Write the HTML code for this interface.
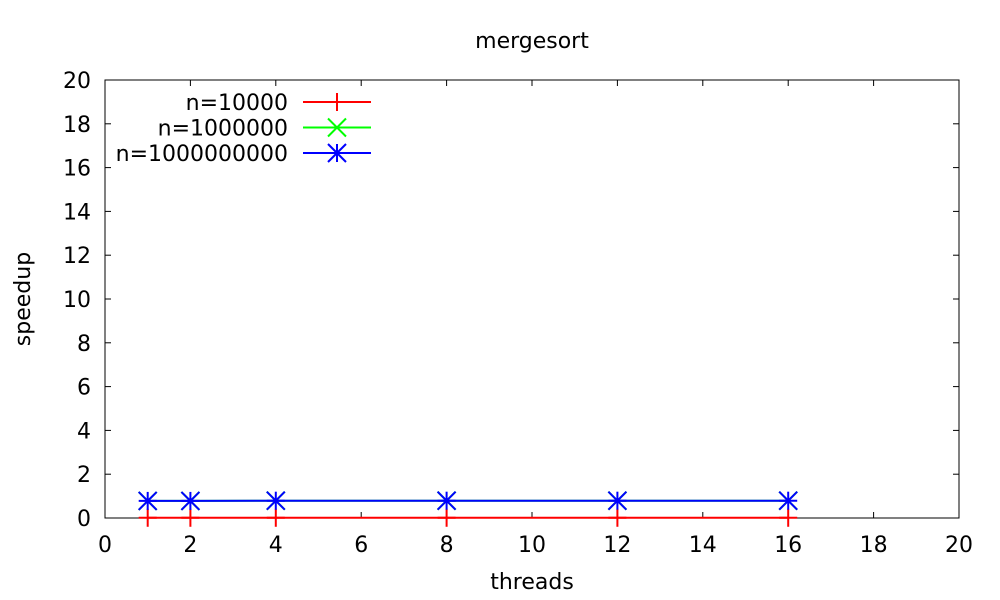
<!DOCTYPE html>
<html><head><meta charset="utf-8"><style>
html,body{margin:0;padding:0;background:#fff;}
svg{display:block;font-family:"DejaVu Sans","Liberation Sans",sans-serif;}
</style></head><body>
<svg id="chart" width="1000" height="600"></svg>
<script>
const threads=[1,2,4,8,12,16];
const seriesNames=["n=10000","n=1000000","n=1000000000"];
const speedSmall=[0.01,0.01,0.01,0.01,0.01,0.01];
const speedMid=[0.78,0.78,0.79,0.79,0.79,0.79];
const speedLarge=[0.78,0.78,0.79,0.79,0.79,0.79];
const xTicks=[0,2,4,6,8,10,12,14,16,18,20];
const yTicks=[0,2,4,6,8,10,12,14,16,18,20];

const NS="http://www.w3.org/2000/svg";
const svg=document.getElementById('chart');
const X0=105,X1=959,Y0=518,Y1=80;
const FS=22;
const xs=v=>X0+(X1-X0)*v/20;
const ys=v=>Y0-(Y0-Y1)*v/20;
function mk(t,a,p){const e=document.createElementNS(NS,t);for(const k in a)e.setAttribute(k,a[k]);(p||svg).appendChild(e);return e;}

const frame=mk('rect',{x:X0,y:Y1,width:X1-X0,height:Y0-Y1,fill:'none',stroke:'#000','stroke-width':1});



xTicks.forEach(v=>{
  const x=xs(v);
  mk('line',{x1:x,y1:Y0,x2:x,y2:Y0-6,stroke:'#000'});
  mk('line',{x1:x,y1:Y1,x2:x,y2:Y1+6,stroke:'#000'});
  const t=mk('text',{x:x,y:552,'text-anchor':'middle','font-size':FS});
  t.textContent=v;
  
  
});
yTicks.forEach(v=>{
  const y=ys(v);
  mk('line',{x1:X0,y1:y,x2:X0+6,y2:y,stroke:'#000'});
  mk('line',{x1:X1,y1:y,x2:X1-6,y2:y,stroke:'#000'});
  const t=mk('text',{x:91,y:y+8,'text-anchor':'end','font-size':FS});
  t.textContent=v;
  
  
});

const title=mk('text',{x:532,y:48,'text-anchor':'middle','font-size':FS});
title.textContent='mergesort';


const xt=mk('text',{x:532,y:589,'text-anchor':'middle','font-size':FS});
xt.textContent='threads';


const yt=mk('text',{x:0,y:0,'text-anchor':'middle','font-size':FS,transform:'translate(30,299) rotate(-90)'});
yt.textContent='speedup';



function marker(kind,x,y,c,g){
  const s=9,a={stroke:c,'stroke-width':2};
  if(kind===0||kind===2){mk('line',Object.assign({x1:x,y1:y-s,x2:x,y2:y+s},a),g);}
  if(kind===0){mk('line',Object.assign({x1:x-s,y1:y,x2:x+s,y2:y},a),g);}
  if(kind===1||kind===2){
    mk('line',Object.assign({x1:x-s,y1:y-s,x2:x+s,y2:y+s},a),g);
    mk('line',Object.assign({x1:x-s,y1:y+s,x2:x+s,y2:y-s},a),g);
  }
  if(kind===2){mk('line',Object.assign({x1:x-s,y1:y,x2:x+s,y2:y},a),g);}
}
const colors=['#ff0000','#00ff00','#0000ff'];
const data=[speedSmall,speedMid,speedLarge];
data.forEach((vals,i)=>{
  const g=mk('g',{});
  
  
  const pts=threads.map((t,j)=>xs(t)+','+ys(vals[j])).join(' ');
  mk('polyline',{points:pts,fill:'none',stroke:colors[i],'stroke-width':2},g);
  threads.forEach((t,j)=>marker(i,xs(t),ys(vals[j]),colors[i],g));
  const lg=mk('g',{});
  
  
  const ly=102+i*25.5;
  const lt=mk('text',{x:288,y:ly+8,'text-anchor':'end','font-size':FS},lg);
  lt.textContent=seriesNames[i];
  mk('line',{x1:303,y1:ly,x2:371,y2:ly,stroke:colors[i],'stroke-width':2},lg);
  marker(i,337,ly,colors[i],lg);
});
</script>
</body></html>
